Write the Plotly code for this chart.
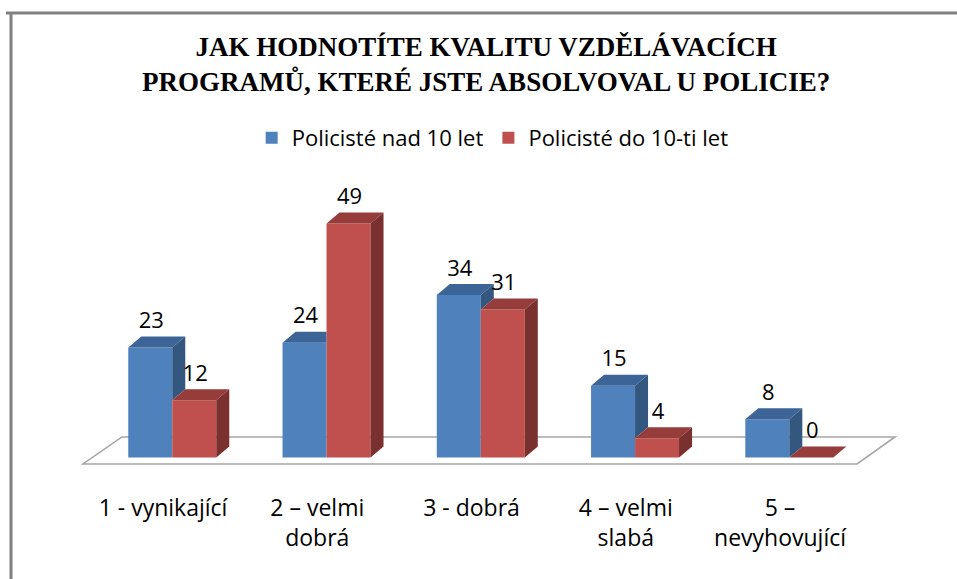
import plotly.graph_objects as go

# ---- data ----
categories = ["1 - vynikající", "2 – velmi<br>dobrá", "3 - dobrá", "4 – velmi<br>slabá", "5 –<br>nevyhovující"]
series_names = ["Policisté nad 10 let", "Policisté do 10-ti let"]
over10 = [23, 24, 34, 15, 8]
under10 = [12, 49, 31, 4, 0]

# ---- style ----
W, H = 957, 579
ML, MR, MT, MB = 72, 52, 190, 112
XR = [-0.65, 4.75]
YR = [-2, 56]
pw, ph = W - ML - MR, H - MT - MB
pxx = pw / (XR[1] - XR[0])
pxy = ph / (YR[1] - YR[0])

BW = 44 / pxx          # bar width in x units
DX = 13 / pxx          # depth offset x
DY = 11 / pxy          # depth offset y
LAB = 25 / pxy         # label offset

front = ["#4F81BD", "#C0504D"]
top = ["#3C6496", "#963C3A"]
side = ["#34577F", "#7A302F"]

xs = list(range(len(categories)))

fig = go.Figure()

# front faces as bars
fig.add_trace(go.Bar(x=xs, y=over10, name=series_names[0], width=BW, offset=-BW,
                     marker=dict(color=front[0], line=dict(width=0))))
fig.add_trace(go.Bar(x=xs, y=under10, name=series_names[1], width=BW, offset=0,
                     marker=dict(color=front[1], line=dict(width=0))))


def poly_trace(polys, color):
    px_, py_ = [], []
    for p in polys:
        for (a, b) in p:
            px_.append(a)
            py_.append(b)
        px_.append(p[0][0]); py_.append(p[0][1])
        px_.append(None); py_.append(None)
    return go.Scatter(x=px_, y=py_, mode="lines", fill="toself", fillcolor=color,
                      line=dict(width=0, color=color), showlegend=False, hoverinfo="skip")


# blue top and side faces (clipped where hidden by red bar)
b_top, b_side = [], []
for i, (vb, vr) in enumerate(zip(over10, under10)):
    xl, xr = i - BW, i
    if vr > vb:
        b_top.append([(xl, vb), (xr, vb), (xr, vb + DY), (xl + DX, vb + DY)])
    else:
        b_top.append([(xl, vb), (xr, vb), (xr + DX, vb + DY), (xl + DX, vb + DY)])
        b_side.append([(xr, vr), (xr, vb), (xr + DX, vb + DY), (xr + DX, vr + DY)])
fig.add_trace(poly_trace(b_top, top[0]))
if b_side:
    fig.add_trace(poly_trace(b_side, side[0]))

# red top and side faces
r_top, r_side = [], []
for i, vr in enumerate(under10):
    xl, xr = i, i + BW
    r_top.append([(xl, vr), (xr, vr), (xr + DX, vr + DY), (xl + DX, vr + DY)])
    if vr > 0:
        r_side.append([(xr, 0), (xr, vr), (xr + DX, vr + DY), (xr + DX, DY)])
fig.add_trace(poly_trace(r_top, top[1]))
fig.add_trace(poly_trace(r_side, side[1]))

# value labels
lab_font = dict(family="Open Sans, sans-serif", size=22, color="black")
fig.add_trace(go.Scatter(x=[i - BW / 2 + 1 / pxx for i in xs], y=[v + LAB for v in over10],
                         mode="text", text=[str(v) for v in over10], textfont=lab_font,
                         showlegend=False, hoverinfo="skip", cliponaxis=False))
fig.add_trace(go.Scatter(x=[i + BW / 2 + 1 / pxx for i in xs], y=[v + LAB for v in under10],
                         mode="text", text=[str(v) for v in under10], textfont=lab_font,
                         showlegend=False, hoverinfo="skip", cliponaxis=False))

# floor (parallelogram) drawn beneath the bars
fl_front_y = -1.36
fl_back_y = 4.29
fl_pts = [(-0.579, fl_front_y), (4.439, fl_front_y), (4.685, fl_back_y), (-0.326, fl_back_y)]
path = "M " + " L ".join(f"{a},{b}" for a, b in fl_pts) + " Z"
fig.add_shape(type="path", path=path, xref="x", yref="y", layer="below",
              fillcolor="white", line=dict(color="#A6A6A6", width=1.6))

# border lines (top and left)
def px_to_paper_x(p):
    return (p - ML) / pw

def px_to_paper_y(p):
    return (H - MB - p) / ph

fig.add_shape(type="line", xref="paper", yref="paper",
              x0=px_to_paper_x(6), x1=px_to_paper_x(960), y0=px_to_paper_y(13), y1=px_to_paper_y(13),
              line=dict(color="#808080", width=3))
fig.add_shape(type="line", xref="paper", yref="paper",
              x0=px_to_paper_x(11), x1=px_to_paper_x(11), y0=px_to_paper_y(12), y1=px_to_paper_y(582),
              line=dict(color="#808080", width=3))

fig.update_layout(
    width=W, height=H,
    margin=dict(l=ML, r=MR, t=MT, b=MB),
    paper_bgcolor="white", plot_bgcolor="white",
    barmode="overlay",
    title=dict(text="JAK HODNOTÍTE KVALITU VZDĚLÁVACÍCH<br>PROGRAMŮ, KTERÉ JSTE ABSOLVOVAL U POLICIE?",
               x=0.508, xanchor="center", y=1 - 56 / H, yanchor="middle", yref="container",
               font=dict(family="Liberation Serif, serif", size=27, color="black", weight="bold")),
    legend=dict(orientation="h", x=0.505, xanchor="center", y=1 - 138 / H, yanchor="middle",
                yref="container", font=dict(family="Open Sans, sans-serif", size=22, color="black"),
                itemwidth=30, traceorder="normal"),
    showlegend=True,
    xaxis=dict(range=XR, tickvals=[i - 0.06 for i in xs], ticktext=categories,
               showgrid=False, zeroline=False, showline=False, ticks="",
               tickfont=dict(family="Open Sans, sans-serif", size=23, color="black"),
               ticklabelstandoff=25),
    yaxis=dict(range=YR, showgrid=False, zeroline=False, showline=False,
               showticklabels=False, ticks=""),
)

fig.write_html("out.html", config={"displayModeBar": False},
               post_script="document.body.style.margin='0';document.body.style.overflow='hidden';")
